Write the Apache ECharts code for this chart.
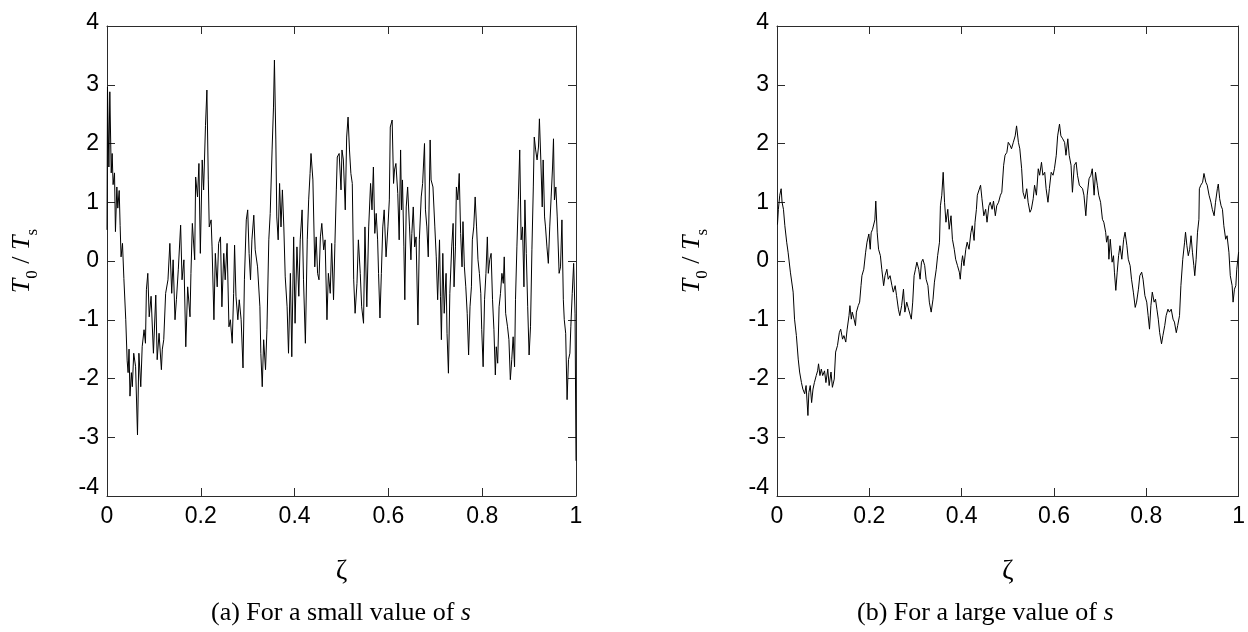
<!DOCTYPE html>
<html>
<head>
<meta charset="utf-8">
<script src="https://cdn.jsdelivr.net/npm/echarts@6/dist/echarts.min.js"></script>
<style>
html,body{margin:0;padding:0;background:#fff;}
#chart{width:1248px;height:632px;}
</style>
</head>
<body>
<div id="chart"></div>
<script>
// ---- data ----
const xTicks = [0, 0.2, 0.4, 0.6, 0.8, 1];
const yTicks = [-4, -3, -2, -1, 0, 1, 2, 3, 4];

// (a) small s
const zetaA = [0.000,0.001,0.004,0.006,0.009,0.011,0.013,0.016,0.018,0.021,0.023,0.026,0.028,0.030,0.033,0.036,0.040,0.043,0.045,0.047,0.049,0.052,0.054,0.057,0.061,0.065,0.068,0.072,0.075,0.079,0.082,0.084,0.087,0.090,0.094,0.099,0.104,0.107,0.111,0.116,0.118,0.121,0.125,0.130,0.134,0.138,0.141,0.145,0.148,0.152,0.157,0.160,0.164,0.168,0.172,0.177,0.179,0.182,0.187,0.189,0.193,0.196,0.199,0.203,0.206,0.210,0.213,0.216,0.218,0.222,0.224,0.228,0.231,0.235,0.238,0.242,0.245,0.249,0.252,0.256,0.260,0.263,0.267,0.270,0.272,0.275,0.279,0.282,0.286,0.290,0.293,0.297,0.300,0.303,0.306,0.309,0.313,0.316,0.321,0.326,0.328,0.331,0.334,0.338,0.341,0.345,0.348,0.352,0.355,0.357,0.360,0.362,0.365,0.368,0.371,0.374,0.377,0.380,0.384,0.387,0.391,0.394,0.398,0.401,0.405,0.409,0.412,0.416,0.419,0.423,0.427,0.430,0.433,0.435,0.439,0.443,0.446,0.449,0.452,0.455,0.458,0.462,0.465,0.469,0.472,0.476,0.479,0.483,0.486,0.489,0.491,0.495,0.499,0.501,0.504,0.508,0.511,0.514,0.517,0.520,0.523,0.526,0.529,0.533,0.536,0.540,0.543,0.547,0.550,0.554,0.558,0.562,0.565,0.568,0.571,0.574,0.577,0.579,0.582,0.585,0.588,0.591,0.595,0.599,0.602,0.604,0.608,0.611,0.613,0.616,0.620,0.623,0.626,0.628,0.630,0.633,0.635,0.638,0.641,0.645,0.648,0.650,0.653,0.656,0.659,0.663,0.666,0.670,0.673,0.677,0.679,0.682,0.685,0.689,0.691,0.695,0.699,0.702,0.705,0.709,0.711,0.713,0.716,0.719,0.723,0.725,0.728,0.731,0.735,0.738,0.740,0.743,0.745,0.748,0.751,0.754,0.757,0.759,0.762,0.765,0.768,0.771,0.774,0.777,0.779,0.782,0.785,0.788,0.791,0.794,0.797,0.799,0.802,0.805,0.808,0.811,0.813,0.816,0.819,0.822,0.825,0.828,0.830,0.833,0.836,0.839,0.842,0.845,0.847,0.850,0.854,0.857,0.860,0.863,0.866,0.869,0.871,0.874,0.877,0.880,0.883,0.886,0.889,0.891,0.894,0.897,0.900,0.903,0.906,0.909,0.911,0.914,0.917,0.920,0.922,0.925,0.928,0.930,0.933,0.935,0.938,0.941,0.944,0.947,0.950,0.952,0.954,0.957,0.960,0.964,0.967,0.970,0.973,0.975,0.978,0.981,0.984,0.987,0.989,0.992,0.995,0.998,1.000];
const tA = [0.53,2.96,1.6,2.88,1.5,1.83,1.3,1.5,0.5,1.26,0.9,1.2,0.6,0.07,0.3,-0.3,-1.0,-1.7,-1.9,-1.5,-2.3,-1.9,-2.14,-1.57,-1.8,-2.96,-1.57,-2.14,-1.46,-1.17,-1.4,-0.49,-0.21,-0.95,-0.6,-1.57,-0.58,-1.68,-1.23,-1.85,-1.5,-1.34,-0.55,-0.32,0.3,-0.55,0.02,-1.0,-0.66,-0.15,0.61,-0.32,0.02,-1.46,-0.44,-0.95,-0.21,0.64,0.02,1.43,1.09,1.66,0.13,1.72,1.21,2.31,2.91,1.38,0.58,0.70,0.24,-1.0,0.13,-0.44,0.3,0.41,-0.78,0.13,-0.32,0.3,-1.12,-1.0,-1.4,-0.55,0.27,-0.6,-1.0,-0.66,-1.0,-1.82,-0.32,0.7,0.87,0.13,-0.32,0.36,0.78,0.19,-0.1,-0.78,-1.57,-2.14,-1.34,-1.85,-1.17,0.36,0.81,1.89,2.62,3.42,2.06,0.75,0.36,1.32,0.58,1.21,0.58,-0.27,-0.78,-1.57,-0.21,-1.63,0.41,-1.06,0.24,-0.6,0.36,0.87,-0.32,-1.4,0.36,1.04,1.49,1.83,1.38,-0.1,0.41,-0.21,-0.32,0.41,0.64,0.19,0.36,-1.0,-0.21,-0.55,0.3,-0.66,0.3,1.21,1.77,1.83,1.21,1.89,1.72,0.87,2.11,2.45,1.89,1.49,1.32,-0.32,-0.89,-0.38,0.36,-0.21,-0.78,-1.06,0.58,-0.78,0.58,1.32,0.87,1.6,0.47,0.81,0.36,-0.21,-0.97,-0.21,0.58,0.87,0.07,0.58,1.04,2.28,2.4,1.32,1.55,1.66,1.15,0.36,1.89,0.87,1.38,0.24,-0.66,0.92,1.26,0.58,0.02,0.47,0.92,0.24,0.41,-1.09,0.36,1.09,1.32,2.0,0.87,0.58,0.07,2.06,1.38,1.26,0.58,0.07,-0.66,0.36,-0.6,-1.34,0.13,-0.89,-0.21,-1.23,-1.91,-0.55,0.24,0.64,-0.44,0.24,1.26,1.04,1.49,0.47,-0.1,0.67,-0.1,-0.44,-0.89,-1.6,-0.78,-0.44,0.36,0.58,1.09,0.58,0.02,-0.21,-0.55,-1.17,-1.8,-0.66,-0.21,0.41,-0.21,0.02,0.13,-0.66,-1.17,-1.94,-1.46,-1.74,-0.78,-0.55,-0.21,-0.38,0.07,-0.89,-1.12,-1.34,-2.02,-1.68,-1.29,-1.8,-0.66,0.24,1.04,1.89,0.36,0.58,-0.44,1.04,0.13,-0.78,-1.6,-1.12,0.19,1.26,2.11,1.89,1.72,1.94,2.42,1.72,0.92,1.72,0.75,0.58,0.24,-0.04,0.58,1.09,1.6,2.08,1.04,1.26,0.75,-0.21,-0.1,0.7,-0.66,-1.0,-1.23,-2.36,-1.68,-1.57,-1.12,-0.55,-0.04,-0.9,-3.4];

// (b) large s
const zetaB = [0.001,0.003,0.006,0.009,0.011,0.014,0.017,0.021,0.024,0.029,0.035,0.038,0.042,0.046,0.049,0.053,0.056,0.060,0.063,0.067,0.069,0.072,0.075,0.078,0.081,0.085,0.088,0.090,0.093,0.096,0.099,0.103,0.106,0.110,0.113,0.117,0.120,0.124,0.127,0.131,0.135,0.138,0.142,0.145,0.149,0.152,0.156,0.158,0.161,0.163,0.167,0.170,0.172,0.176,0.179,0.182,0.184,0.188,0.192,0.195,0.199,0.202,0.204,0.207,0.212,0.214,0.217,0.220,0.224,0.227,0.231,0.234,0.238,0.241,0.245,0.249,0.252,0.256,0.259,0.263,0.266,0.270,0.274,0.277,0.281,0.284,0.288,0.291,0.294,0.297,0.300,0.303,0.307,0.310,0.313,0.316,0.320,0.323,0.327,0.330,0.334,0.338,0.341,0.345,0.348,0.352,0.354,0.357,0.360,0.363,0.366,0.370,0.373,0.377,0.380,0.384,0.387,0.391,0.395,0.397,0.400,0.402,0.405,0.409,0.412,0.416,0.420,0.423,0.427,0.429,0.432,0.434,0.441,0.444,0.448,0.452,0.455,0.459,0.462,0.466,0.469,0.473,0.476,0.480,0.484,0.487,0.491,0.494,0.498,0.501,0.505,0.508,0.512,0.516,0.519,0.523,0.526,0.530,0.533,0.537,0.541,0.544,0.548,0.551,0.555,0.558,0.562,0.566,0.569,0.573,0.576,0.580,0.583,0.587,0.590,0.594,0.598,0.601,0.605,0.608,0.612,0.615,0.619,0.623,0.626,0.630,0.633,0.637,0.640,0.644,0.648,0.651,0.655,0.658,0.662,0.665,0.669,0.672,0.676,0.680,0.683,0.687,0.690,0.694,0.697,0.701,0.705,0.708,0.712,0.714,0.717,0.719,0.722,0.726,0.729,0.731,0.734,0.737,0.740,0.743,0.747,0.751,0.754,0.758,0.761,0.765,0.768,0.772,0.776,0.779,0.783,0.786,0.790,0.793,0.797,0.801,0.804,0.807,0.810,0.813,0.817,0.820,0.823,0.826,0.829,0.833,0.836,0.840,0.843,0.847,0.850,0.854,0.858,0.861,0.865,0.868,0.872,0.875,0.879,0.883,0.885,0.888,0.891,0.894,0.897,0.900,0.903,0.905,0.908,0.911,0.914,0.915,0.918,0.922,0.925,0.929,0.932,0.936,0.940,0.943,0.947,0.950,0.954,0.956,0.959,0.962,0.965,0.968,0.972,0.975,0.979,0.982,0.986,0.988,0.991,0.994,0.996,1.000];
const tB = [0.62,0.88,1.12,1.23,1.0,0.88,0.6,0.32,0.15,-0.19,-0.53,-0.99,-1.27,-1.67,-1.89,-2.07,-2.18,-2.26,-2.12,-2.63,-2.24,-2.12,-2.41,-2.18,-2.07,-1.95,-1.87,-1.75,-1.95,-1.84,-1.95,-1.87,-2.07,-1.84,-2.12,-1.89,-2.15,-2.01,-1.55,-1.44,-1.22,-1.16,-1.33,-1.27,-1.38,-1.16,-0.93,-0.76,-0.99,-0.87,-0.99,-1.1,-0.87,-0.76,-0.70,-0.42,-0.25,-0.14,0.15,0.32,0.46,0.2,0.48,0.54,0.7,1.02,0.49,0.2,0.09,-0.14,-0.42,-0.25,-0.14,-0.31,-0.25,-0.42,-0.53,-0.42,-0.59,-0.82,-0.93,-0.76,-0.48,-0.87,-0.7,-0.79,-0.76,-0.99,-0.7,-0.25,-0.14,-0.02,-0.14,-0.31,-0.02,0.03,-0.08,-0.31,-0.42,-0.7,-0.87,-0.65,-0.36,-0.14,0.09,0.32,0.94,1.12,1.51,1.0,0.66,0.88,0.54,0.77,0.37,0.2,0.03,-0.08,-0.19,-0.31,-0.02,0.09,-0.08,0.2,0.32,0.2,0.48,0.6,0.35,0.66,0.88,1.12,1.29,1.06,0.77,0.88,0.66,0.94,1.0,0.88,1.02,0.77,0.94,1.0,1.12,1.17,1.63,1.8,1.85,2.02,1.97,1.91,2.02,2.13,2.3,2.02,1.91,1.57,1.17,1.06,1.23,1.0,0.83,0.88,1.06,1.29,1.12,1.57,1.46,1.68,1.46,1.51,1.23,1.0,1.23,1.51,1.46,1.57,1.8,2.13,2.33,2.13,2.08,2.02,1.8,2.08,1.8,1.63,1.17,1.63,1.68,1.46,1.29,1.29,1.23,1.12,0.77,1.12,1.4,1.46,1.57,1.12,1.51,1.29,1.12,1.0,0.71,0.66,0.49,0.32,0.43,0.03,0.37,-0.02,0.09,-0.19,-0.5,-0.19,0.09,0.26,0.03,0.37,0.49,0.26,0.03,-0.08,-0.31,-0.53,-0.79,-0.7,-0.48,-0.25,-0.19,-0.31,-0.59,-0.7,-0.93,-1.16,-0.76,-0.53,-0.7,-0.65,-0.82,-0.99,-1.22,-1.41,-1.27,-1.1,-0.93,-0.82,-0.87,-0.82,-0.99,-1.04,-1.22,-1.1,-0.93,-0.42,0.03,0.32,0.49,0.26,0.09,0.2,0.43,0.15,-0.08,-0.25,0.03,0.49,0.71,1.23,1.29,1.34,1.49,1.34,1.29,1.12,1.0,0.88,0.77,1.0,1.23,1.31,1.06,0.94,0.88,0.6,0.37,0.43,0.15,-0.25,-0.42,-0.7,-0.48,-0.42,-0.14,0.15];

const captionA = '(a) For a small value of {it|s}';
const captionB = '(b) For a large value of {it|s}';
const yName = '{i|T}{sub|0}{n| / }{i|T}{sub|s}';
const xName = 'ζ';

// ---- chart ----
const SERIF = 'Liberation Serif';
const SANS = 'Liberation Sans';
const AX = '#2b2b2b';

function zip(xs, ys){ return xs.map((x,i)=>[x, ys[i]]); }

function xAx(grid, main){
  return {
    type:'value', gridIndex:grid, position: main ? 'bottom' : 'top',
    min:xTicks[0], max:xTicks[xTicks.length-1], interval:0.2,
    axisLine:{show:true, onZero:false, lineStyle:{color:AX, width:1}},
    axisTick:{show:true, inside:true, length:8, lineStyle:{color:AX, width:1}},
    splitLine:{show:false},
    axisLabel:{show:main, color:'#000', fontFamily:SANS, fontSize:23, margin:9},
    name: main ? xName : '', nameLocation:'middle', nameGap:62,
    nameTextStyle:{fontFamily:SERIF, fontSize:28, color:'#000'}
  };
}
function yAx(grid, main){
  return {
    type:'value', gridIndex:grid, position: main ? 'left' : 'right',
    min:yTicks[0], max:yTicks[yTicks.length-1], interval:1,
    axisLine:{show:true, onZero:false, lineStyle:{color:AX, width:1}},
    axisTick:{show:true, inside:true, length:8, lineStyle:{color:AX, width:1}},
    splitLine:{show:false},
    axisLabel:{
      show:main, color:'#000', fontFamily:SANS, fontSize:23, margin:8,
      formatter:function(v){
        if (v === yTicks[0]) return '{lo|' + v + '}';
        if (v === yTicks[yTicks.length-1]) return '{hi|' + v + '}';
        return String(v);
      },
      rich:{
        lo:{fontFamily:SANS, fontSize:23, color:'#000', padding:[0,0,16,0]},
        hi:{fontFamily:SANS, fontSize:23, color:'#000', padding:[0,0,7,0]}
      }
    },
    name: main ? yName : '', nameLocation:'middle', nameGap:66, nameRotate:90,
    nameTextStyle:{
      color:'#000', fontFamily:SERIF, fontSize:26,
      rich:{
        i:{fontFamily:SERIF, fontStyle:'italic', fontSize:26, color:'#000', padding:[0,0,6,0], verticalAlign:'bottom'},
        n:{fontFamily:SERIF, fontSize:26, color:'#000', padding:[0,0,6,0], verticalAlign:'bottom'},
        sub:{fontFamily:SERIF, fontSize:17, color:'#000', verticalAlign:'bottom'}
      }
    }
  };
}
const capStyle = {
  color:'#000', fontFamily:SERIF, fontSize:26, fontWeight:'normal',
  rich:{ it:{fontFamily:SERIF, fontStyle:'italic', fontSize:26, color:'#000'} }
};

const chart = echarts.init(document.getElementById('chart'), null, {renderer:'canvas'});
chart.setOption({
  animation:false,
  backgroundColor:'#fff',
  title:[
    {text:captionA, left:211, top:600, padding:0, textStyle:capStyle},
    {text:captionB, left:857, top:600, padding:0, textStyle:capStyle}
  ],
  grid:[
    {left:107, top:26, width:469, height:470},
    {left:777, top:26, width:469, height:470}
  ],
  xAxis:[xAx(0,true), xAx(0,false), xAx(1,true), xAx(1,false)],
  yAxis:[yAx(0,true), yAx(0,false), yAx(1,true), yAx(1,false)],
  series:[
    {type:'line', xAxisIndex:0, yAxisIndex:0, data:zip(zetaA,tA), showSymbol:false, symbol:'none',
     lineStyle:{color:'#000', width:1}, itemStyle:{color:'#000'}, silent:true},
    {type:'line', xAxisIndex:2, yAxisIndex:2, data:zip(zetaB,tB), showSymbol:false, symbol:'none',
     lineStyle:{color:'#000', width:1}, itemStyle:{color:'#000'}, silent:true}
  ]
});
</script>
</body>
</html>
